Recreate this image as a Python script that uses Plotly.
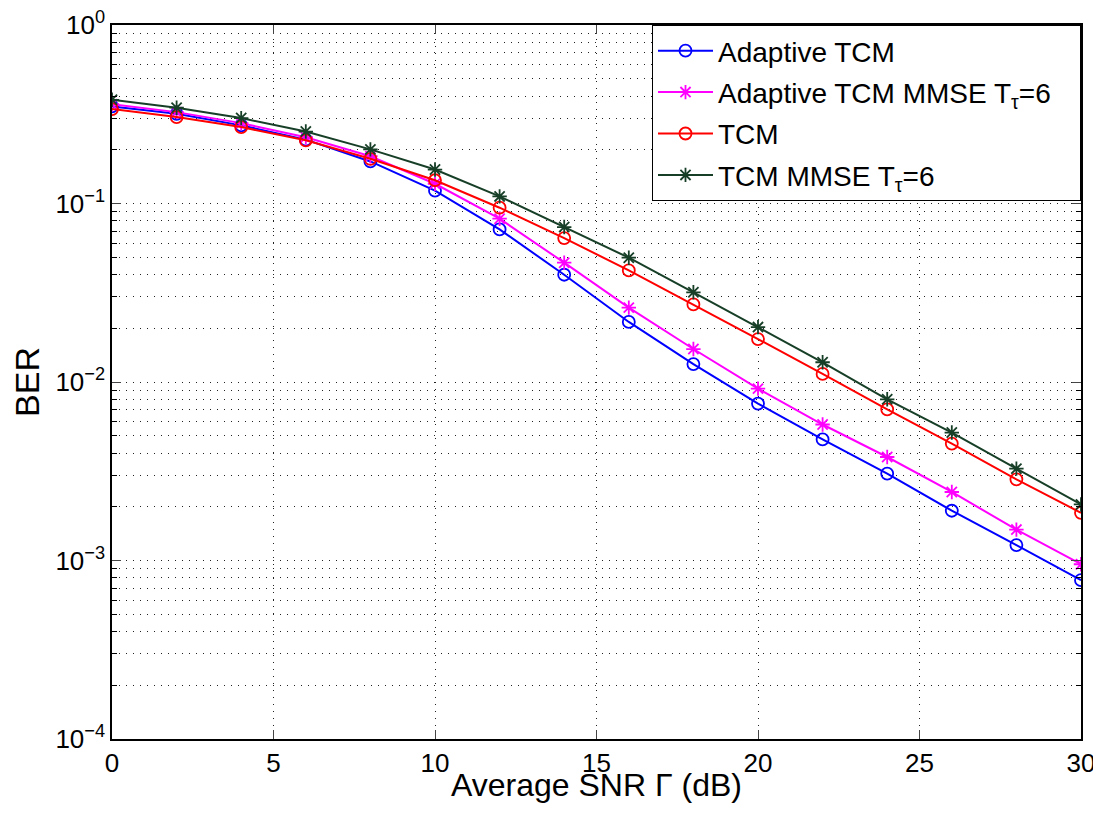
import plotly.graph_objects as go

snr = [0, 2, 4, 6, 8, 10, 12, 14, 16, 18, 20, 22, 24, 26, 28, 30]

# values
ber_adaptive_tcm = [0.350, 0.318, 0.274, 0.228, 0.172, 0.118, 0.0716, 0.0399, 0.0217, 0.0126,
                    0.00757, 0.00477, 0.00307, 0.00190, 0.00122, 0.000776]
ber_adaptive_mmse = [0.360, 0.325, 0.282, 0.235, 0.184, 0.129, 0.0822, 0.0466, 0.0261, 0.0153,
                     0.00918, 0.00578, 0.00380, 0.00242, 0.00149, 0.000953]
ber_tcm = [0.338, 0.305, 0.268, 0.226, 0.178, 0.135, 0.0947, 0.0640, 0.0422, 0.0272,
           0.0174, 0.0111, 0.00703, 0.00452, 0.00285, 0.00185]
ber_tcm_mmse = [0.381, 0.344, 0.301, 0.253, 0.201, 0.155, 0.1096, 0.0738, 0.0497, 0.0318,
                0.0203, 0.0129, 0.0080, 0.00521, 0.00327, 0.00206]

names = ["Adaptive TCM", "Adaptive TCM MMSE T<sub>τ</sub>=6&nbsp;&nbsp;&nbsp;", "TCM", "TCM MMSE T<sub>τ</sub>=6"]
colors = ["#0000ff", "#ff00ff", "#ff0000", "#173f27"]
symbols = ["circle-open", "asterisk-open", "circle-open", "asterisk-open"]
series = [ber_adaptive_tcm, ber_adaptive_mmse, ber_tcm, ber_tcm_mmse]

ytick_vals = [1e-4, 1e-3, 1e-2, 1e-1, 1]
ytick_text = ["10<sup>−4</sup>", "10<sup>−3</sup>", "10<sup>−2</sup>", "10<sup>−1</sup>", "10<sup>0</sup>"]
xtick_vals = [0, 5, 10, 15, 20, 25, 30]

fig = go.Figure()
for i, (name, ys, c, s) in enumerate(zip(names, series, colors, symbols)):
    fig.add_trace(go.Scatter(
        x=snr, y=ys, name=name, mode="lines+markers", legendgroup=str(i),
        line=dict(color=c, width=2),
        marker=dict(symbol=s, size=12, color=c, line=dict(color=c, width=1.8)),
    ))

dots = "1px,6px"

# page body has an 8px margin, so the figure is a bit smaller than the window
fig.update_layout(
    width=1089, height=798,
    margin=dict(l=104, r=16, t=17, b=67),
    paper_bgcolor="white", plot_bgcolor="white",
    font=dict(family="Liberation Sans, Arial, sans-serif", color="black", size=26),
    legend=dict(x=1, y=1, xanchor="right", yanchor="top",
                bgcolor="white", bordercolor="black", borderwidth=1,
                font=dict(size=28), itemwidth=55, tracegroupgap=2),
)
# x title as an annotation so it sits just under the tick labels
fig.add_annotation(text="Average SNR Γ (dB)", xref="paper", yref="paper",
                   x=0.5, y=-0.0644, xanchor="center", yanchor="middle",
                   showarrow=False, font=dict(size=32))
fig.update_xaxes(
    range=[0, 30], tickvals=xtick_vals, ticks="inside", ticklen=9,
    showline=True, linecolor="black", linewidth=1.5, mirror="ticks",
    zeroline=False, tickfont=dict(size=26), automargin=False,
    ticklabeloverflow="allow",
    showgrid=True, gridcolor="#222222", griddash=dots, gridwidth=1,
)
fig.update_yaxes(
    type="log", range=[-4, 0], tickvals=ytick_vals, ticktext=ytick_text,
    ticks="inside", ticklen=9,
    showline=True, linecolor="black", linewidth=1.5, mirror="ticks",
    zeroline=False, tickfont=dict(size=26), automargin=False,
    ticklabeloverflow="allow",
    title=dict(text="BER", font=dict(size=34), standoff=10),
    showgrid=True, gridcolor="#222222", griddash=dots, gridwidth=1,
    minor=dict(dtick="D1", ticks="inside", ticklen=5, tickcolor="black",
               showgrid=True, gridcolor="#222222", griddash=dots, gridwidth=1),
)

fig.write_html("out.html")
